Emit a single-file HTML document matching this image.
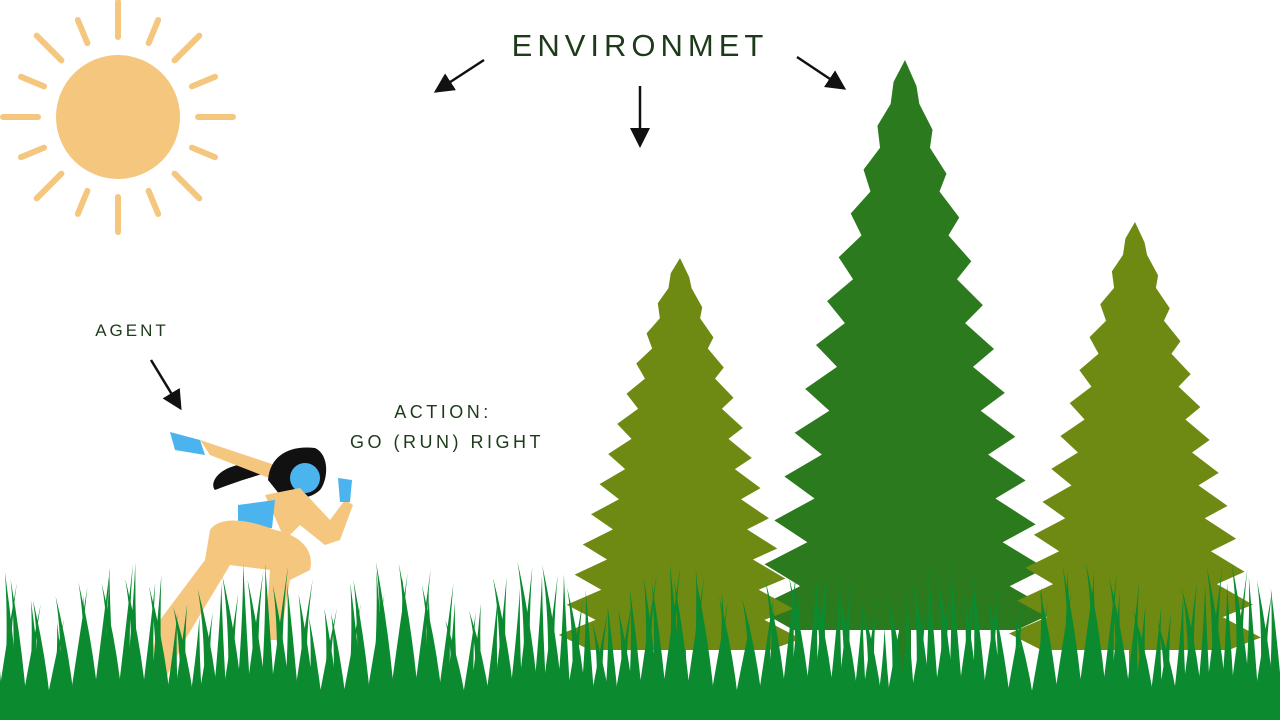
<!DOCTYPE html>
<html><head><meta charset="utf-8"><style>
html,body{margin:0;padding:0;background:#fff;width:1280px;height:720px;overflow:hidden}
svg{display:block}
text{font-family:"Liberation Sans",sans-serif;fill:#1d3a1a}
</style></head><body>
<svg id="scene" width="1280" height="720" viewBox="0 0 1280 720">
<defs><marker id="ah" markerWidth="8" markerHeight="8" refX="6" refY="4" orient="auto"><path d="M0,0 L8,4 L0,8 Z" fill="#111"/></marker></defs>
<g id="sun">
<circle cx="118" cy="117" r="62" fill="#F5C77E"/>
</g>
<text x="640" y="56" font-size="31" text-anchor="middle" letter-spacing="5">ENVIRONMET</text>
<g stroke="#111" stroke-width="2.5" fill="none">
<line x1="484" y1="60" x2="438" y2="90" marker-end="url(#ah)"/>
<line x1="640" y1="86" x2="640" y2="143" marker-end="url(#ah)"/>
<line x1="797" y1="57" x2="842" y2="87" marker-end="url(#ah)"/>
</g>
<text x="132" y="336" font-size="17" text-anchor="middle" letter-spacing="3">AGENT</text>
<line x1="151" y1="360" x2="179" y2="406" stroke="#111" stroke-width="2.5" marker-end="url(#ah)"/>
<text x="443" y="418" font-size="18" text-anchor="middle" letter-spacing="3.5">ACTION:</text>
<text x="447" y="448" font-size="18" text-anchor="middle" letter-spacing="3.5">GO (RUN) RIGHT</text>
<g id="trees"></g>
<g>
<path d="M238,465 C215,470 210,485 215,490 C240,480 260,475 275,470 Z" fill="#111"/>
<path d="M200,440 L290,470 L300,490 L210,455 Z" fill="#F5C77E"/>
<path d="M170,432 L200,440 L205,455 L175,450 Z" fill="#4BB3EE"/>
<path d="M268,480 C270,455 290,445 315,448 C330,455 328,480 320,490 C310,500 290,500 280,495 Z" fill="#111"/>
<circle cx="305" cy="478" r="15" fill="#4BB3EE"/>
<path d="M265,495 L300,488 L330,520 L345,500 L353,505 L340,540 L325,545 L300,525 L285,540 Z" fill="#F5C77E"/>
<path d="M338,478 L352,480 L350,502 L340,502 Z" fill="#4BB3EE"/>
<path d="M238,505 L275,500 L272,528 L238,528 Z" fill="#4BB3EE"/>
<path d="M210,530 C220,515 250,520 275,530 C300,535 315,550 310,570 L290,580 L280,640 L265,640 L270,570 L230,565 L185,640 L155,700 L140,700 L160,620 L205,560 Z" fill="#F5C77E"/>
</g>
<g id="grass"></g>
</svg>
<script>
var NS="http://www.w3.org/2000/svg";
var sun=document.getElementById('sun');
for(var i=0;i<16;i++){var a=i*Math.PI/8;var l=document.createElementNS(NS,'line');
l.setAttribute('x1',118+80*Math.cos(a));l.setAttribute('y1',117+80*Math.sin(a));
l.setAttribute('x2',118+(i%2?105:115)*Math.cos(a));l.setAttribute('y2',117+(i%2?105:115)*Math.sin(a));
l.setAttribute('stroke','#F5C77E');l.setAttribute('stroke-width','6');l.setAttribute('stroke-linecap','round');


sun.appendChild(l);}
function tree(cx,ty,by,w,col,name){var n=26,L=[],R=[];
for(var k=0;k<=n;k++){var t=k/n,y=ty+(by-ty)*t,ww=w*Math.pow(t,0.8)*(k%2?1:0.72);
L.push((cx-ww)+','+y);R.unshift((cx+ww)+','+(y+(k%2?4:0)));}
var p=document.createElementNS(NS,'polygon');p.setAttribute('points',L.concat(R).join(' '));p.setAttribute('fill',col);


document.getElementById('trees').appendChild(p);
var tr=document.createElementNS(NS,'rect');tr.setAttribute('x',cx-6);tr.setAttribute('y',by);tr.setAttribute('width',12);tr.setAttribute('height',720-by);tr.setAttribute('fill',col);


document.getElementById('trees').appendChild(tr);}
tree(905,60,630,155,'#2C7A1E','middle-tree');
tree(680,258,650,125,'#6F8A12','left-tree');
tree(1135,222,650,130,'#6F8A12','right-tree');
var g=document.getElementById('grass');
var base=document.createElementNS(NS,'rect');base.setAttribute('x',0);base.setAttribute('y',690);base.setAttribute('width',1280);base.setAttribute('height',30);base.setAttribute('fill','#0B8A30');


g.appendChild(base);
for(var x=-5;x<1290;x+=8){var h=85+50*Math.abs(Math.sin(x*0.37))+25*Math.abs(Math.sin(x*0.11));
var lean=14*Math.sin(x*0.53);var p=document.createElementNS(NS,'path');
p.setAttribute('d','M'+(x-8)+',720 Q'+(x+lean*0.3)+','+(720-h*0.6)+' '+(x+lean)+','+(720-h)+' Q'+(x+4)+','+(720-h*0.5)+' '+(x+9)+',720 Z');
p.setAttribute('fill','#0B8A30');


g.appendChild(p);}
</script>
</body></html>
